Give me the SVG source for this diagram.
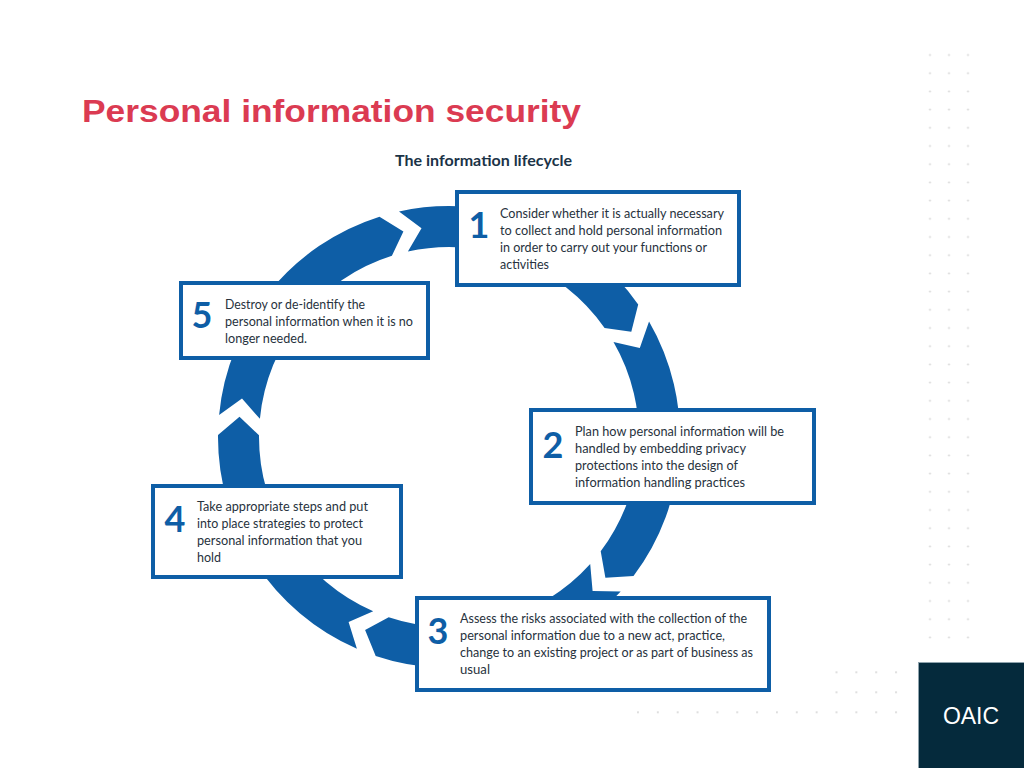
<svg xmlns="http://www.w3.org/2000/svg" width="1024" height="768" viewBox="0 0 1024 768">
<style>
.ring{fill:#0e5ea6}
.box{fill:#ffffff;stroke:#0e5ea6;stroke-width:4}
.num{font-family:Lato,"Liberation Sans",sans-serif;font-weight:700;font-size:36px;fill:#0e5ea6;text-anchor:middle}
.txt{font-family:Lato,"Liberation Sans",sans-serif;font-size:13px;fill:#27323d}
.title{font-family:"Liberation Sans",Arial,sans-serif;font-weight:700;font-size:32px;fill:#db3b52}
.sub{font-family:Lato,"Liberation Sans",sans-serif;font-weight:700;font-size:16px;fill:#1b3347}
.dot{fill:#cfcfcf}
</style>
<defs>
<pattern id="dotsV" patternUnits="userSpaceOnUse" x="920.5" y="45.9" width="19" height="18.2"><circle class="dot" cx="9.5" cy="9.1" r="0.9"/></pattern>
<pattern id="dotsH" patternUnits="userSpaceOnUse" x="628.1" y="662.3" width="19.85" height="20"><circle class="dot" cx="9.9" cy="10" r="0.9"/></pattern>
</defs>
<rect width="1024" height="768" fill="#ffffff"/>
<g id="background-dots">
<rect x="920.5" y="45.9" width="57" height="600.6" fill="url(#dotsV)"/>
<rect x="628.1" y="702.3" width="278" height="20" fill="url(#dotsH)"/>
<rect x="826.6" y="662.3" width="79.4" height="40" fill="url(#dotsH)"/>
</g>
<g id="title">
<text class="title" x="82" y="122" textLength="499" lengthAdjust="spacingAndGlyphs">Personal information security</text>
<text class="sub" x="395" y="166" textLength="177" lengthAdjust="spacingAndGlyphs">The information lifecycle</text>
</g>
<g id="connectors">
<path class="ring" d="M399.0,211.5 A231,231 0 0 1 638.2,304.5 L631.3,331.75 L604.6,328.0 A190,190 0 0 0 407.9,251.5 L421.5,228.3 Z"/>
<path class="ring" d="M649.05,321.5 A231,231 0 0 1 633.5,576.0 L605.4,577.85 L600.7,551.3 A190,190 0 0 0 613.5,342 L639.8,348.0 Z"/>
<path class="ring" d="M620.7,591.6 A231,231 0 0 1 375.7,656.1 L365.1,630.0 L388.7,617.2 A190,190 0 0 0 590.2,564.1 L592.6,590.9 Z"/>
<path class="ring" d="M356.9,648.8 A231,231 0 0 1 218.0,435.0 L239.5,416.8 L259.0,435.3 A190,190 0 0 0 373.2,611.2 L348.6,622.0 Z"/>
<path class="ring" d="M219.1,414.9 A231,231 0 0 1 379.5,216.7 L403.4,231.5 L391.9,255.8 A190,190 0 0 0 259.9,418.8 L242.0,398.6 Z"/>
</g>
<g id="node1">
<rect class="box" x="457" y="192" width="282" height="93"/>
<text class="num" x="479" y="238">1</text>
<text class="txt" x="500" y="218" textLength="224" lengthAdjust="spacingAndGlyphs">Consider whether it is actually necessary</text>
<text class="txt" x="500" y="235" textLength="222" lengthAdjust="spacingAndGlyphs">to collect and hold personal information</text>
<text class="txt" x="500" y="252" textLength="207" lengthAdjust="spacingAndGlyphs">in order to carry out your functions or</text>
<text class="txt" x="500" y="269" textLength="49" lengthAdjust="spacingAndGlyphs">activities</text>
</g>
<g id="node2">
<rect class="box" x="531" y="410" width="283" height="93"/>
<text class="num" x="553" y="458">2</text>
<text class="txt" x="575" y="436" textLength="209" lengthAdjust="spacingAndGlyphs">Plan how personal information will be</text>
<text class="txt" x="575" y="453" textLength="171" lengthAdjust="spacingAndGlyphs">handled by embedding privacy</text>
<text class="txt" x="575" y="470" textLength="163" lengthAdjust="spacingAndGlyphs">protections into the design of</text>
<text class="txt" x="575" y="487" textLength="170" lengthAdjust="spacingAndGlyphs">information handling practices</text>
</g>
<g id="node3">
<rect class="box" x="417" y="598" width="352" height="92"/>
<text class="num" x="438" y="644">3</text>
<text class="txt" x="460" y="623" textLength="287" lengthAdjust="spacingAndGlyphs">Assess the risks associated with the collection of the</text>
<text class="txt" x="460" y="640" textLength="265" lengthAdjust="spacingAndGlyphs">personal information due to a new act, practice,</text>
<text class="txt" x="460" y="657" textLength="293" lengthAdjust="spacingAndGlyphs">change to an existing project or as part of business as</text>
<text class="txt" x="460" y="674" textLength="30" lengthAdjust="spacingAndGlyphs">usual</text>
</g>
<g id="node4">
<rect class="box" x="153" y="486" width="248" height="91"/>
<text class="num" x="175" y="532">4</text>
<text class="txt" x="197" y="510.5" textLength="171" lengthAdjust="spacingAndGlyphs">Take appropriate steps and put</text>
<text class="txt" x="197" y="527.5" textLength="166" lengthAdjust="spacingAndGlyphs">into place strategies to protect</text>
<text class="txt" x="197" y="544.5" textLength="165" lengthAdjust="spacingAndGlyphs">personal information that you</text>
<text class="txt" x="197" y="561.5" textLength="24" lengthAdjust="spacingAndGlyphs">hold</text>
</g>
<g id="node5">
<rect class="box" x="181" y="283" width="247" height="75"/>
<text class="num" x="202" y="328">5</text>
<text class="txt" x="225" y="308.5" textLength="140" lengthAdjust="spacingAndGlyphs">Destroy or de-identify the</text>
<text class="txt" x="225" y="325.5" textLength="188" lengthAdjust="spacingAndGlyphs">personal information when it is no</text>
<text class="txt" x="225" y="342.5" textLength="82" lengthAdjust="spacingAndGlyphs">longer needed.</text>
</g>
<g id="logo">
<rect x="918.5" y="662.5" width="106" height="106" fill="#052a3c" stroke="#8fa3ad" stroke-width="1"/>
<text x="971" y="724" font-family="'Liberation Sans',Arial,sans-serif" font-size="23" fill="#ffffff" text-anchor="middle">OAIC</text>
</g>
</svg>
